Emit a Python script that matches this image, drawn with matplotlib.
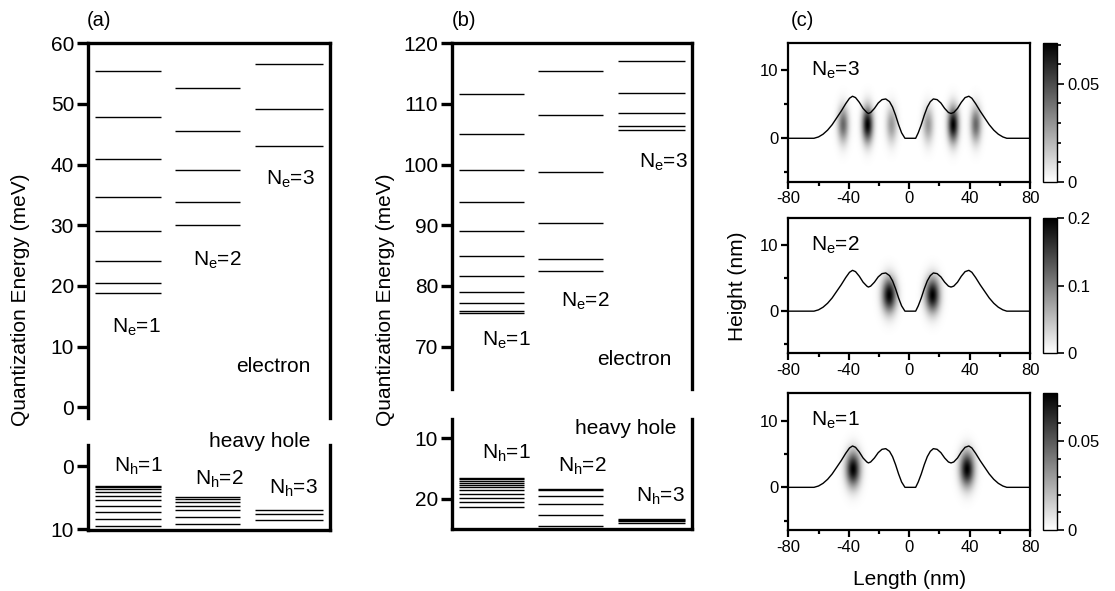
import numpy as np
import matplotlib
matplotlib.use('Agg')
import matplotlib.pyplot as plt
from matplotlib.ticker import MultipleLocator, FuncFormatter

plt.rcParams['font.family'] = ['Liberation Sans', 'DejaVu Sans']
plt.rcParams['mathtext.fontset'] = 'custom'
plt.rcParams['mathtext.rm'] = 'Liberation Sans'
plt.rcParams['mathtext.default'] = 'regular'
plt.rcParams['axes.unicode_minus'] = False

# ---- (a) quantization energies (meV), columns N=1,2,3 ----
a_e1 = [55.5, 47.9, 40.9, 34.7, 29.0, 24.2, 20.55, 18.85]
a_e2 = [52.7, 45.5, 39.1, 33.8, 30.1]
a_e3 = [56.6, 49.2, 43.1]
a_h1 = [3.1, 3.3, 3.65, 4.2, 4.7, 5.4, 6.3, 7.25, 8.4, 9.5]
a_h2 = [4.95, 5.2, 5.7, 6.3, 7.0, 8.1, 9.2]
a_h3 = [6.95, 7.6, 8.65]

# ---- (b) ----
b_e1 = [111.6, 105.1, 99.1, 93.8, 89.1, 85.0, 81.7, 79.0, 77.1, 75.9, 75.5]
b_e2 = [115.4, 108.2, 98.8, 90.3, 84.5, 82.5]
b_e3 = [117.1, 111.8, 108.5, 106.4, 105.7]
b_h1 = [16.5, 16.7, 17.0, 17.3, 17.7, 18.1, 18.6, 19.1, 19.8, 20.5, 21.4]
b_h2 = [18.35, 18.6, 19.5, 20.8, 22.6, 24.5]
b_h3 = [23.3, 23.5, 23.7, 24.0]

# ---- (c) dot height profile (nm) ----
prof_x = [-80, -63, -60, -57, -54, -51, -48, -45, -42, -39.5, -37.5, -35.5, -33,
          -30.5, -28, -27, -25.5, -23, -20.5, -18, -15.5, -13, -11, -9, -7, -5,
          -2.8, 4.3, 6, 8, 10, 12, 14, 16, 18.5, 21, 23.5, 26, 27.7, 29.5, 32,
          34.5, 37, 39.5, 41.5, 44, 47, 50, 53, 56, 59, 62, 64.6, 80]
prof_h = [0, 0, 0.2, 0.6, 1.2, 2.0, 3.0, 4.0, 5.1, 5.9, 6.2, 6.0, 5.3,
          4.4, 3.8, 3.66, 3.8, 4.4, 5.2, 5.7, 5.8, 5.4, 4.6, 3.4, 2.0, 0.8,
          0, 0, 0.8, 2.0, 3.4, 4.6, 5.4, 5.8, 5.7, 5.2, 4.4, 3.8, 3.66, 3.8, 4.4,
          5.3, 6.0, 6.2, 5.9, 5.1, 4.0, 3.0, 2.0, 1.2, 0.6, 0.2, 0, 0]

# probability-density lobes: centre x, peak value
c3_xc = [-43.6, -27.4, -11.5, 12.7, 29.3, 44.3]
c3_amp = [0.042, 0.071, 0.028, 0.028, 0.071, 0.042]
c2_xc = [-13.1, 15.6]
c2_amp = [0.2, 0.2]
c1_xc = [-37.0, 38.5]
c1_amp = [0.077, 0.077]

cols = [(0.03, 0.30), (0.36, 0.63), (0.69, 0.97)]

fig = plt.figure(figsize=(11.15, 5.91), dpi=100)


def style(ax, ylim, ticks, part):
    ax.set_xlim(0, 1)
    ax.set_ylim(*ylim)
    ax.spines['bottom' if part == 'top' else 'top'].set_visible(False)
    for s in ax.spines.values():
        s.set_linewidth(2.4)
    ax.set_xticks([])
    ax.set_yticks(ticks)
    ax.tick_params(axis='y', direction='out', length=8, width=2.4,
                   labelsize=15, pad=2)


def levels(ax, cols_levels):
    for (x0, x1), lv in zip(cols, cols_levels):
        ax.hlines(lv, x0, x1, color='k', lw=1.0)


def lab(ax, x, y, s, **kw):
    ax.text(x, y, s, ha='center', va='center', fontsize=15, **kw)


# ---------------- panel (a) ----------------
axA = fig.add_axes([0.0789, 0.2927, 0.217, 0.634])
axAh = fig.add_axes([0.0789, 0.1032, 0.217, 0.1438])
style(axA, (-1.76, 60), range(0, 61, 10), 'top')
style(axAh, (10.16, -3.33), [0, 10], 'bottom')
levels(axA, [a_e1, a_e2, a_e3])
levels(axAh, [a_h1, a_h2, a_h3])
lab(axA, 0.202, 13.2, 'N$_e$=1')
lab(axA, 0.533, 24.3, 'N$_e$=2')
lab(axA, 0.835, 37.5, 'N$_e$=3')
lab(axA, 0.764, 6.7, 'electron')
lab(axAh, 0.21, 0.0, 'N$_h$=1')
lab(axAh, 0.541, 2.1, 'N$_h$=2')
lab(axAh, 0.847, 3.6, 'N$_h$=3')
lab(axAh, 0.71, -3.86, 'heavy hole', clip_on=False)

# ---------------- panel (b) ----------------
axB = fig.add_axes([0.4054, 0.3418, 0.2152, 0.585])
axBh = fig.add_axes([0.4054, 0.1044, 0.2152, 0.1866])
style(axB, (63.0, 120), range(70, 121, 10), 'top')
style(axBh, (25.0, 6.82), [10, 20], 'bottom')
levels(axB, [b_e1, b_e2, b_e3])
levels(axBh, [b_h1, b_h2, b_h3])
lab(axB, 0.225, 71.1, 'N$_e$=1')
lab(axB, 0.554, 77.4, 'N$_e$=2')
lab(axB, 0.883, 100.3, 'N$_e$=3')
lab(axB, 0.758, 67.8, 'electron')
lab(axBh, 0.225, 12.4, 'N$_h$=1')
lab(axBh, 0.544, 14.6, 'N$_h$=2')
lab(axBh, 0.87, 19.5, 'N$_h$=3')
lab(axBh, 0.723, 8.4, 'heavy hole')

fig.text(0.018, 0.492, 'Quantization Energy (meV)', rotation=90,
         ha='center', va='center', fontsize=15)
fig.text(0.346, 0.492, 'Quantization Energy (meV)', rotation=90,
         ha='center', va='center', fontsize=15)

# ---------------- panel (c) ----------------
gx = np.linspace(-80, 80, 481)
gy = np.linspace(-6.4, 14.1, 205)
X, Y = np.meshgrid(gx, gy)

maps = [
    (c3_xc, c3_amp, 2.0, 2.5, 0.071, [0, 0.05], 0.01, 'N$_e$=3',
     [0.6926, 0.2352]),
    (c2_xc, c2_amp, 2.4, 3.3, 0.2, [0, 0.1, 0.2], None, 'N$_e$=2',
     [0.4022, 0.2284]),
    (c1_xc, c1_amp, 2.7, 3.3, 0.077, [0, 0.05], 0.01, 'N$_e$=1',
     [0.1032, 0.2313]),
]

for xc, amp, yc, sx, vmax, cticks, cminor, name, (bot, h) in maps:
    ax = fig.add_axes([0.707, bot, 0.2168, h])
    cax = fig.add_axes([0.9352, bot, 0.0131, h])
    dens = np.zeros_like(X)
    for x0, a in zip(xc, amp):
        dens += a * np.exp(-0.5 * ((X - x0) / sx) ** 2 - 0.5 * ((Y - yc) / 1.8) ** 2)
    im = ax.imshow(dens, origin='lower', extent=[-80, 80, -6.4, 14.1],
                   aspect='auto', cmap='gray_r', vmin=0, vmax=vmax,
                   interpolation='bilinear')
    ax.plot(prof_x, prof_h, color='k', lw=1.0)
    ax.set_xlim(-80, 80)
    ax.set_ylim(-6.4, 14.1)
    ax.set_xticks([-80, -40, 0, 40, 80])
    ax.xaxis.set_minor_locator(MultipleLocator(20))
    ax.set_yticks([0, 10])
    ax.set_yticks([-5, 5], minor=True)
    for s in ax.spines.values():
        s.set_linewidth(1.6)
    ax.tick_params(which='major', direction='out', length=5, width=1.6,
                   labelsize=12, pad=2)
    ax.tick_params(which='minor', direction='out', length=3, width=1.6)
    ax.text(-65, 10, name, ha='left', va='center', fontsize=15)

    cb = fig.colorbar(im, cax=cax)
    cb.outline.set_linewidth(1.0)
    cb.set_ticks(cticks)
    cb.ax.yaxis.set_major_formatter(FuncFormatter(lambda v, p: f'{v:g}'))
    if cminor:
        cb.ax.yaxis.set_minor_locator(MultipleLocator(cminor))
    else:
        cb.ax.yaxis.set_minor_locator(plt.NullLocator())
    cb.ax.tick_params(which='major', length=5, width=1.2, labelsize=12, pad=2)
    cb.ax.tick_params(which='minor', length=3, width=1.2)

fig.text(0.6614, 0.516, 'Height (nm)', rotation=90, ha='center',
         va='center', fontsize=15)
fig.text(0.816, 0.0203, 'Length (nm)', ha='center', va='center', fontsize=15)

fig.text(0.0888, 0.966, '(a)', ha='center', va='center', fontsize=14.5)
fig.text(0.416, 0.966, '(b)', ha='center', va='center', fontsize=14.5)
fig.text(0.720, 0.966, '(c)', ha='center', va='center', fontsize=14.5)

fig.savefig('out.png', dpi=100)
